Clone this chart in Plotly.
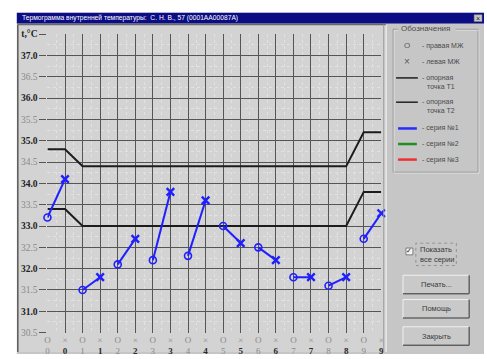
import plotly.graph_objects as go

W, H = 487, 359

# Days of observation (each day has a right-gland "O" and a left-gland "X" reading)
days = [0, 1, 2, 3, 4, 5, 6, 7, 8, 9]
right_temp = [33.2, 31.5, 32.1, 32.2, 32.3, 33.0, 32.5, 31.8, 31.6, 32.7]
left_temp = [34.1, 31.8, 32.7, 33.8, 33.6, 32.6, 32.2, 31.8, 31.8, 33.3]

# Reference curves, one value per column (O, X, O, X, ...)
ref_t1 = [34.8, 34.8, 34.4, 34.4, 34.4, 34.4, 34.4, 34.4, 34.4, 34.4,
          34.4, 34.4, 34.4, 34.4, 34.4, 34.4, 34.4, 34.4, 35.2, 35.2]
ref_t2 = [33.4, 33.4, 33.0, 33.0, 33.0, 33.0, 33.0, 33.0, 33.0, 33.0,
          33.0, 33.0, 33.0, 33.0, 33.0, 33.0, 33.0, 33.0, 33.8, 33.8]

y_ticks = [30.5, 31.0, 31.5, 32.0, 32.5, 33.0, 33.5, 34.0, 34.5, 35.0,
           35.5, 36.0, 36.5, 37.0, 37.5]

title_text = "Термограмма внутренней температуры:  С. Н. В., 57 (0001AA00087A)"
legend_items = ["- правая МЖ", "- левая МЖ", "- опорная", "точка Т1",
                "- опорная", "точка Т2", "- серия №1", "- серия №2", "- серия №3"]
buttons = ["Печать...", "Помощь", "Закрыть"]


def px(x):
    return x / W


def py(y):
    return 1 - y / H


BLUE = "#1f1fff"
SERIF = "Liberation Serif"
SANS = "Liberation Sans"

cols = list(range(2 * len(days)))
col_right = [2 * d for d in days]
col_left = [2 * d + 1 for d in days]

# segments joining the two readings of the same day
seg_x, seg_y = [], []
for d, r, l in zip(days, right_temp, left_temp):
    seg_x += [2 * d, 2 * d + 1, None]
    seg_y += [r, l, None]

fig = go.Figure()
fig.add_trace(go.Scatter(x=cols, y=ref_t1, mode="lines",
                         line=dict(color="#1c1c1c", width=2), cliponaxis=False))
fig.add_trace(go.Scatter(x=cols, y=ref_t2, mode="lines",
                         line=dict(color="#1c1c1c", width=2), cliponaxis=False))
fig.add_trace(go.Scatter(x=seg_x, y=seg_y, mode="lines",
                         line=dict(color=BLUE, width=2), cliponaxis=False))
fig.add_trace(go.Scatter(x=col_right, y=right_temp, mode="markers", cliponaxis=False,
                         marker=dict(symbol="circle-open", size=7, color=BLUE,
                                     line=dict(width=1.6, color=BLUE))))
fig.add_trace(go.Scatter(x=col_left, y=left_temp, mode="markers", cliponaxis=False,
                         marker=dict(symbol="x-thin-open", size=7.5, color=BLUE,
                                     line=dict(width=2.4, color=BLUE))))

# tick labels
y_text = []
for v in y_ticks:
    if v == 37.5:
        y_text.append("<b>t,°C</b>")
    elif v == int(v):
        y_text.append(f"<b>{v:.1f}</b>")
    else:
        y_text.append(f"<span style='color:#8a8a8a'>{v:.1f}</span>")

x_text = []
for d in days:
    x_text.append(f"<span style='color:#8a8a8a'>O<br>{d}</span>")
    x_text.append(f"<span style='color:#8a8a8a'>×</span><br><b>{d}</b>")

shapes = []


def rect(x0, y0, x1, y1, fill, line=None, lw=0, layer="below", dash=None):
    shapes.append(dict(type="rect", xref="paper", yref="paper",
                       x0=px(x0), x1=px(x1), y0=py(y1), y1=py(y0),
                       fillcolor=fill, layer=layer,
                       line=dict(color=line or "rgba(0,0,0,0)", width=lw,
                                 dash=dash or "solid")))


def hline(x0, x1, y, color, width=1, layer="above", dash="solid"):
    shapes.append(dict(type="line", xref="paper", yref="paper",
                       x0=px(x0), x1=px(x1), y0=py(y), y1=py(y),
                       line=dict(color=color, width=width, dash=dash), layer=layer))


def vline(x, y0, y1, color, width=1, layer="above"):
    shapes.append(dict(type="line", xref="paper", yref="paper",
                       x0=px(x), x1=px(x), y0=py(y0), y1=py(y1),
                       line=dict(color=color, width=width), layer=layer))


# dialog body and title bar
rect(14, 8, 487, 359, "#c6c6c6")
rect(14, 8, 487, 19, "#0c0c84")
rect(477, 10, 485, 17, "#c6c6c6", "#808080", 0.5, layer="above")

# chart panel
rect(15, 20, 388, 357, "#d3d3d3")
vline(15, 20, 357, "#5a5a5a", 1.5)
hline(15, 388, 20, "#6a6a6a", 1.5)
vline(385.5, 20, 357, "#9a9a9a", 1)
vline(388, 20, 357, "#f2f2f2", 1)

# legend group box
rect(395, 25, 481, 172, "rgba(0,0,0,0)", "#8c8c8c", 0.8)
rect(396, 26, 482, 173, "rgba(0,0,0,0)", "#ececec", 0.6)
rect(400, 20, 458, 29, "#c6c6c6")

# legend samples
hline(398, 420, 75, "#2a2a2a", 1.6)
hline(398, 420, 100, "#2a2a2a", 1.6)
hline(400, 419, 127, "#2a2aff", 2.5)
hline(400, 419, 143, "#1f8f1f", 2.5)
hline(400, 419, 159, "#f03030", 2.5)

# checkbox
rect(408, 250, 415, 257, "#f4f4f4", "#6a6a6a", 0.8, layer="above")
rect(418, 245, 459, 268, "rgba(0,0,0,0)", "#707070", 0.6, layer="above", dash="dot")

# buttons
for (y0, y1) in [(278, 297), (303, 322), (331, 350)]:
    rect(405, y0, 472, y1, "#c9c9c9", "#f0f0f0", 1)
    hline(405, 472, y1, "#606060", 1.5)
    vline(472, y0, y1, "#606060", 1.5)

annotations = []


def text(x, y, s, size=7.5, color="#3a3a3a", anchor="left", family=SANS):
    annotations.append(dict(xref="paper", yref="paper", x=px(x), y=py(y), text=s,
                            showarrow=False, xanchor=anchor, yanchor="middle",
                            font=dict(family=family, size=size, color=color)))


text(17, 13.5, title_text, size=6.7, color="#ffffff")
text(481, 13.5, "×", size=7, color="#202020", anchor="center")
text(401, 24.5, "Обозначения", size=8, color="#4a4a4a")

text(409, 42, "O", size=8, color="#5a5a5a", anchor="center")
text(409, 58, "×", size=10, color="#5a5a5a", anchor="center")
leg_pos = [(422, 42), (422, 58), (422, 75), (427, 84), (422, 100), (427, 109),
           (422, 127), (422, 143), (422, 159)]
for (x, y), s in zip(leg_pos, legend_items):
    text(x, y, s, size=7, color="#4a4a4a")

text(411.5, 253.5, "✓", size=7, color="#202020", anchor="center", family="DejaVu Sans")
text(420, 251, "Показать", size=7.5, color="#3a3a3a")
text(420, 262, "все серии", size=7.5, color="#3a3a3a")

for s, yc in zip(buttons, [287.5, 312.5, 340.5]):
    text(438.5, yc, s, size=7.5, color="#3a3a3a", anchor="center")

fig.update_layout(
    width=W, height=H,
    margin=dict(l=0, r=0, t=0, b=0),
    paper_bgcolor="#ffffff",
    plot_bgcolor="rgba(0,0,0,0)",
    showlegend=False,
    shapes=shapes,
    annotations=annotations,
    xaxis=dict(range=[0, 19], domain=[px(45), px(383)],
               tickmode="array", tickvals=cols, ticktext=x_text,
               showgrid=True, gridcolor="#555555", gridwidth=1,
               zeroline=False, showline=False, ticks="",
               tickfont=dict(family=SERIF, size=9, color="#2a2a2a"),
               minor=dict(dtick=0.5, showgrid=True, gridcolor="#e2e2e2",
                          griddash="dot", gridwidth=1)),
    yaxis=dict(range=[30.5, 37.5], domain=[py(337), py(30)],
               tickmode="array", tickvals=y_ticks, ticktext=y_text,
               showgrid=True, gridcolor="#555555", gridwidth=1,
               zeroline=False, showline=False,
               ticks="outside", ticklen=7, tickcolor="#555555", tickwidth=1,
               tickfont=dict(family=SERIF, size=9.5, color="#1e1e1e"),
               minor=dict(dtick=0.25, showgrid=True, gridcolor="#e2e2e2",
                          griddash="dot", gridwidth=1)),
)

fig.write_html("out.html")
